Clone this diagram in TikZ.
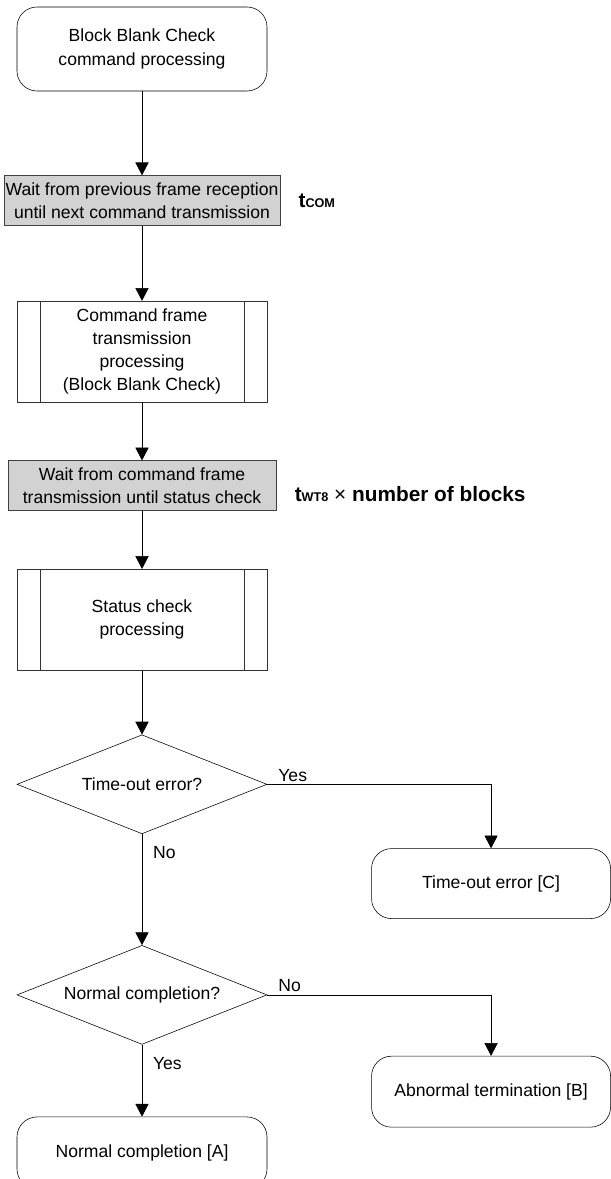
\documentclass[tikz,border=0pt]{standalone}
\usepackage{fontspec}
\setmainfont{Liberation Sans}
\usetikzlibrary{positioning,shapes.geometric,arrows.meta}

\begin{document}
\begin{tikzpicture}[>={Triangle[width=0.33cm,length=0.32cm]}, node distance=1.45cm,
  every node/.style={font=\fontsize{12.5}{16.5}\selectfont},
  termbox/.style={draw, rounded corners=0.5cm, align=center, minimum width=6.25cm, minimum height=1.8cm},
  waitbox/.style={draw=black!75, fill=gray!35, align=center, minimum width=6.7cm, minimum height=1.25cm, inner sep=1pt},
  subproc/.style={draw=black!80, align=center, minimum width=6.25cm, minimum height=2.525cm,
    path picture={
      \draw ([xshift=0.575cm]path picture bounding box.north west) -- ([xshift=0.575cm]path picture bounding box.south west);
      \draw ([xshift=-0.575cm]path picture bounding box.north east) -- ([xshift=-0.575cm]path picture bounding box.south east);}},
  decision/.style={draw, diamond, aspect=2.5, align=center, minimum width=6.25cm, minimum height=2.475cm, inner sep=0pt},
  lbl/.style={inner sep=2pt},
  timing/.style={font=\fontsize{14.8}{17}\selectfont\bfseries, anchor=west, inner sep=1pt}]
\useasboundingbox (0,0) rectangle (15.275,-29.475);
\node[termbox, minimum height=2.1cm] (start) at (3.55,-1.225) {Block Blank Check\\command processing};
\node[waitbox, below=2.1cm of start] (wait1) {Wait from previous frame reception\\until next command transmission};
\node[subproc, below=1.875cm of wait1] (cmd) {Command frame\\transmission\\processing\\(Block Blank Check)};
\node[waitbox, below=of cmd] (wait2) {Wait from command frame\\transmission until status check};
\node[subproc, below=of wait2] (stat) {Status check\\processing};
\node[decision, below=1.6cm of stat] (timeout) {Time-out error?};
\node[decision, below=2.775cm of timeout] (normal) {Normal completion?};
\node[termbox, below=1.8cm of normal] (resA) {Normal completion [A]};
\node[termbox, minimum width=5.975cm, minimum height=1.75cm, below right=1.6cm and 2.6cm of timeout.east] (resC) {Time-out error [C]};
\node[termbox, minimum width=5.975cm, minimum height=1.775cm, below right=1.525cm and 2.6cm of normal.east] (resB) {Abnormal termination [B]};
% timing notes
\node[timing, right=0.42cm of wait1] (tcom) {t{\fontsize{9}{10}\selectfont COM}};
\node[timing, right=0.42cm of wait2, yshift=-0.2cm] (twt) {t{\fontsize{9}{10}\selectfont WT8} {\mdseries ×} number of blocks};
% flow
\draw[->] (start) -- (wait1);
\draw[->] (wait1) -- (cmd);
\draw[->] (cmd) -- (wait2);
\draw[->] (wait2) -- (stat);
\draw[->] (stat) -- (timeout);
\draw[->] (timeout.east) -| node[lbl, pos=0, anchor=south west, xshift=0.2cm] (yes1) {Yes} (resC.north);
\draw[->] (timeout.south) -- node[lbl, pos=0.17, right=0.2cm] (no1) {No} (normal.north);
\draw[->] (normal.east) -| node[lbl, pos=0, anchor=south west, xshift=0.2cm] (no2) {No} (resB.north);
\draw[->] (normal.south) -- node[lbl, pos=0.26, right=0.2cm] (yes2) {Yes} (resA.north);
\end{tikzpicture}
\end{document}
